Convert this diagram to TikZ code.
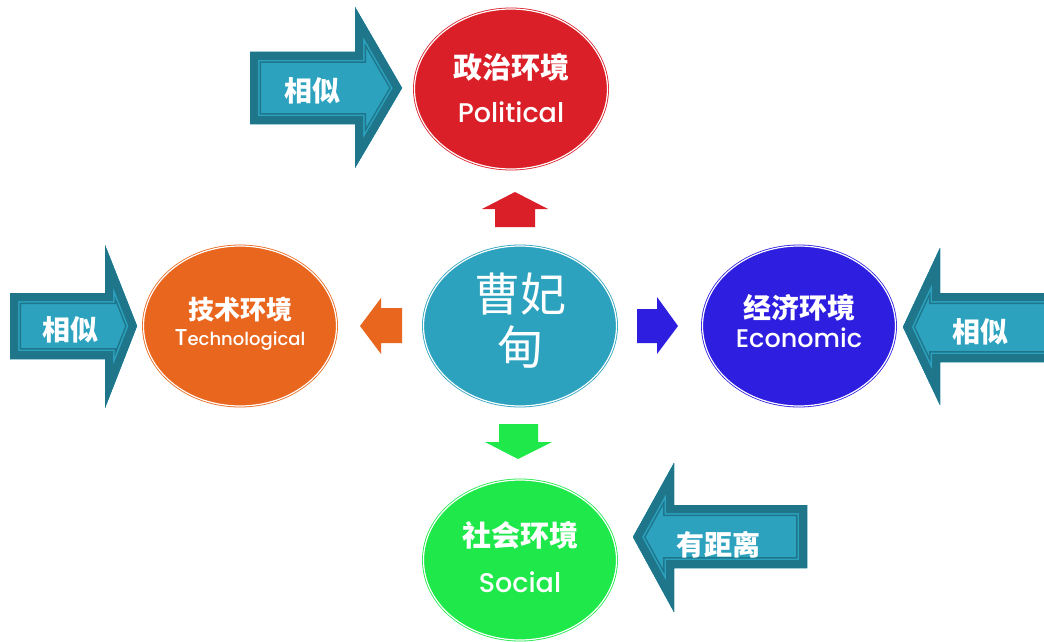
\documentclass[tikz,border=0pt]{standalone}
\usepackage{fontspec}
\setmainfont{Poppins}[UprightFont={* Medium}]
\newfontfamily\cjk{Noto Sans CJK SC}
\usetikzlibrary{calc,shapes.geometric}
\definecolor{cred}{HTML}{DA1F28}
\definecolor{corange}{HTML}{E8661E}
\definecolor{cteal}{HTML}{2CA2BE}
\definecolor{cblue}{HTML}{2E1EE0}
\definecolor{cgreen}{HTML}{1EE84A}
\definecolor{tealdark}{HTML}{1F768A}
\definecolor{teallight}{HTML}{2CA2BF}
\newcommand\tealarrow[1]{%
  \begin{scope}
    \clip #1;
    \fill[teallight] #1;
    \draw[tealdark, line width=22pt, line join=miter] #1;
    \draw[teallight, line width=19pt, line join=miter] #1;
    \draw[tealdark, line width=16pt, line join=miter] #1;
  \end{scope}}
\begin{document}
\begin{tikzpicture}[x=1pt,y=-1pt,
  env/.style={ellipse, draw=#1, fill=#1, double=white, double distance=1.2pt,
    line width=0.8pt, inner sep=0pt, minimum width=193pt, minimum height=160pt},
  zh/.style={text=white, inner sep=0pt, font=\cjk\bfseries\fontsize{#1}{#1}\selectfont},
  en/.style={text=white, inner sep=0pt, anchor=base, font=\fontsize{#1}{#1}\selectfont},
  tag/.style={text=white, inner sep=0pt, font=\cjk\bfseries\fontsize{28}{28}\selectfont}]
\clip (0,0) rectangle (1044,642);
\fill[white] (0,0) rectangle (1044,642);

% big teal arrows
\tealarrow{(250,52) -- (355,52) -- (355,7) -- (402,88) -- (355,168) -- (355,124) -- (250,124) -- cycle}
\tealarrow{(10,293) -- (105,293) -- (105,245) -- (137,326) -- (105,408) -- (105,359) -- (10,359) -- cycle}
\tealarrow{(1060,293) -- (940,293) -- (940,248) -- (903,327) -- (940,405) -- (940,362) -- (1060,362) -- cycle}
\tealarrow{(807,505) -- (674,505) -- (674,463) -- (633,537) -- (674,612) -- (674,568) -- (807,568) -- cycle}

\node[tag] (t1) at (312,91) {相似};
\node[tag] (t2) at (70,330) {相似};
\node[tag] (t3) at (980,332) {相似};
\node[tag] (t4) at (718,545) {有距离};

% ellipses
\node[env=cred]    (pol) at (511,89)  {};
\node[env=corange] (tec) at (240,326) {};
\node[env=cteal]   (cen) at (520,326) {};
\node[env=cblue]   (eco) at (799,326) {};
\node[env=cgreen]  (soc) at (520,560) {};

\node[zh=29] (polz) at ($(pol)+(0,-22)$) {政治环境};
\node[en=27] (pole) at ($(pol)+(0,33)$) {Political};
\node[zh=26] (tecz) at ($(tec)+(0,-16)$) {技术环境};
\node[en=18] (tece) at ($(tec)+(0,19)$) {{\fontsize{23}{23}\selectfont T}echnological};
\node[zh=28] (ecoz) at ($(eco)+(0,-18)$) {经济环境};
\node[en=25.5] (ecoe) at ($(eco)+(0,21)$) {Economic};
\node[zh=29] (socz) at ($(soc)+(0,-25)$) {社会环境};
\node[en=27] (soce) at ($(soc)+(0,32)$) {Social};
\node[text=white, inner sep=0pt, align=center,
  font=\cjk\fontsize{46}{53}\selectfont] (cenz) at ($(cen)+(0,-5)$) {曹妃\\甸};

% small block arrows
\fill[cred] (495,227) -- (495,209) -- (482,209) -- (515,192) -- (548,209) -- (535,209) -- (535,227) -- cycle;
\fill[cblue] (637,309) -- (657,309) -- (657,297) -- (678,326) -- (657,354) -- (657,343) -- (637,343) -- cycle;
\fill[cgreen] (499,424) -- (538,424) -- (538,442) -- (552,442) -- (518,459) -- (485,442) -- (499,442) -- cycle;
\fill[corange] (402,308) -- (381,308) -- (381,298) -- (360,326) -- (381,354) -- (381,343) -- (402,343) -- cycle;
\end{tikzpicture}
\end{document}
